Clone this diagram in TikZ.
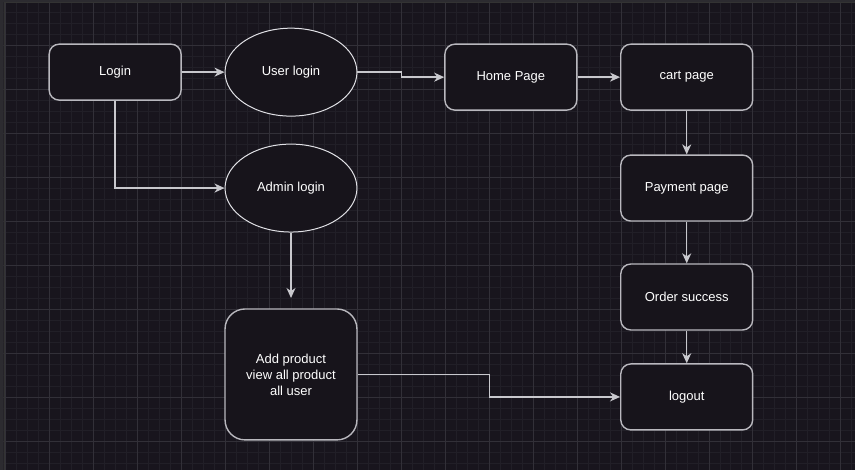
\documentclass[tikz,border=0pt]{standalone}
\usepackage{fontspec}
\setmainfont{Liberation Sans}
\usetikzlibrary{arrows.meta,shapes.geometric}
\definecolor{bgdark}{RGB}{24,21,29}
\definecolor{gridminor}{RGB}{33,31,39}
\definecolor{gridmajor}{RGB}{50,48,56}
\definecolor{boxfill}{RGB}{23,20,27}
\definecolor{boxedge}{RGB}{185,184,190}
\definecolor{ovaledge}{RGB}{225,225,230}
\definecolor{flowedge}{RGB}{200,200,205}
\definecolor{frameedge}{RGB}{44,43,48}
\begin{document}
\begin{tikzpicture}[x=1pt, y=-1pt,
  box/.style={draw=boxedge, line width=1.4pt, fill=boxfill, rounded corners=10pt,
    minimum width=132pt, minimum height=66pt, inner sep=0pt, align=center,
    text=white, font=\fontsize{13}{16}\selectfont},
  oval/.style={box, ellipse, draw=ovaledge, line width=1pt, rounded corners=0pt, minimum height=88pt},
  flow/.style={draw=flowedge, line width=1.4pt, -{Stealth[length=10pt,width=9pt,inset=3pt]}}]
	\fill[bgdark] (0,0) rectangle (855,470);
	\foreach \x in {5,16,...,855} \draw[gridminor] (\x,0) -- (\x,470);
	\foreach \y in {1,12,...,470} \draw[gridminor] (0,\y) -- (855,\y);
	\foreach \x in {5,49,...,855} \draw[gridmajor] (\x,0) -- (\x,470);
	\foreach \y in {1,45,...,470} \draw[gridmajor] (0,\y) -- (855,\y);
	\fill[frameedge] (0,0) rectangle (855,2) (0,0) rectangle (3.5,470);
	\draw[black!80, line width=.8pt] (4,470) -- (4,2.5) -- (855,2.5);

	\node[box, minimum height=56pt] (login) at (115,72)  {Login};
	\node[oval]                     (user)  at (291,72)  {User login};
	\node[box]                      (home)  at (511,77)  {Home Page};
	\node[box]                      (cart)  at (687,77)  {cart page};
	\node[oval]                     (admin) at (291,188) {Admin login};
	\node[box]                      (pay)   at (687,188) {Payment page};
	\node[box]                      (order) at (687,297) {Order success};
	\node[box, minimum height=131pt, rounded corners=20pt] (addprod) at (291,374.5)
	  {Add product\\view all product\\all user};
	\node[box]                      (logout) at (687,397) {logout};
	\coordinate (admintip) at (291,298);

	\draw[flow] (login) -- (user);
	\draw[flow] (user.east) -- ++(44,0) |- (home.west);
	\draw[flow] (home) -- (cart);
	\draw[flow] (cart) -- (pay);
	\draw[flow] (pay) -- (order);
	\draw[flow] (order) -- (logout);
	\draw[flow] (login.south) |- (admin.west);
	\draw[flow] (admin.south) -- (admintip);
	\draw[flow] (addprod.east) -- ++(132,0) |- (logout.west);
\end{tikzpicture}
\end{document}
